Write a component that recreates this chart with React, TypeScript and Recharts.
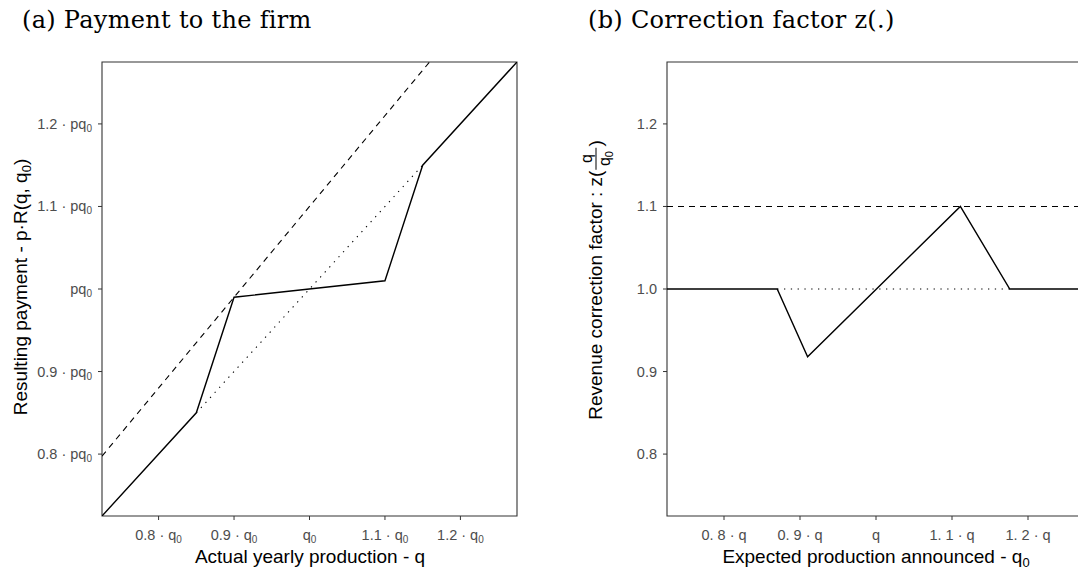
import React from "react";
import { LineChart, Line, XAxis, YAxis, ReferenceArea } from "recharts";

// panel (a): payment as a function of actual production q (in units of q0)
const solidQ = [0.725, 0.85, 0.9, 1.1, 1.15, 1.275];
const solidPay = [0.725, 0.85, 0.99, 1.01, 1.15, 1.275];
const dashedQ = [0.725, 1.275];
const dashedPay = [0.7975, 1.4025];
const dottedQ = [0.85, 1.15];
const dottedPay = [0.85, 1.15];

// panel (b): correction factor as a function of announced production q0
const zSolidX = [0.725, 0.87, 0.91, 1.111, 1.176, 1.275];
const zSolidY = [1, 1, 0.918, 1.1, 1, 1];
const zDashedX = [0.725, 1.275];
const zDashedY = [1.1, 1.1];
const zDottedX = [0.87, 1.176];
const zDottedY = [1, 1];

const tickVals = [0.8, 0.9, 1, 1.1, 1.2];
const leftXLabels = ["0.8 · q", "0.9 · q", "q", "1.1 · q", "1.2 · q"];
const leftYLabels = ["0.8 · pq", "0.9 · pq", "pq", "1.1 · pq", "1.2 · pq"];
const rightXLabels = ["0. 8 · q", "0. 9 · q", "q", "1. 1 · q", "1. 2 · q"];
const rightYLabels = ["0.8", "0.9", "1.0", "1.1", "1.2"];

const DOMAIN: [number, number] = [0.725, 1.275];
const pts = (xs: number[], ys: number[]) => xs.map((x, i) => ({ x, y: ys[i] }));

const TICK_COL = "#4d4d4d";
const BORDER = "#333333";
const SANS = "'Liberation Sans', Arial, sans-serif";

const makeXTick = (labels: string[], sub: boolean) => (p: any) => {
  const i = tickVals.findIndex(v => Math.abs(v - p.payload.value) < 1e-6);
  return (
    <text x={p.x} y={p.y + 18} textAnchor="middle" fontSize={14.5} fill={TICK_COL} fontFamily={SANS}>
      <tspan>{labels[i]}</tspan>
      {sub && <tspan fontSize={10} dy={3}>0</tspan>}
    </text>
  );
};

const makeYTick = (labels: string[], sub: boolean) => (p: any) => {
  const i = tickVals.findIndex(v => Math.abs(v - p.payload.value) < 1e-6);
  return (
    <text x={p.x - 4} y={p.y + 5} textAnchor="end" fontSize={14.5} fill={TICK_COL} fontFamily={SANS}>
      <tspan>{labels[i]}</tspan>
      {sub && <tspan fontSize={10} dy={3}>0</tspan>}
    </text>
  );
};

function Panel(props: {
  solid: { x: number; y: number }[];
  dashed: { x: number; y: number }[];
  dotted: { x: number; y: number }[];
  xLabels: string[];
  yLabels: string[];
  sub: boolean;
  width: number;
  marginLeft: number;
  marginRight: number;
}) {
  return (
    <LineChart width={props.width} height={576}
      margin={{ top: 62, right: props.marginRight, bottom: 30, left: props.marginLeft }}>
      <XAxis dataKey="x" type="number" domain={DOMAIN} ticks={tickVals} allowDataOverflow
        axisLine={false} tickLine={{ stroke: BORDER }} tickSize={4} height={30}
        tick={makeXTick(props.xLabels, props.sub)} />
      <YAxis dataKey="y" type="number" domain={DOMAIN} ticks={tickVals} allowDataOverflow
        axisLine={false} tickLine={{ stroke: BORDER }} tickSize={4} width={60}
        tick={makeYTick(props.yLabels, props.sub)} />
      <Line data={props.dotted} dataKey="y" stroke="#000" strokeWidth={1.1}
        strokeDasharray="1.3 5.5" dot={false} isAnimationActive={false} />
      <Line data={props.dashed} dataKey="y" stroke="#000" strokeWidth={1.1}
        strokeDasharray="6 5" dot={false} isAnimationActive={false} />
      <Line data={props.solid} dataKey="y" stroke="#000" strokeWidth={1.4}
        dot={false} isAnimationActive={false} />
      <ReferenceArea x1={DOMAIN[0]} x2={DOMAIN[1]} y1={DOMAIN[0]} y2={DOMAIN[1]}
        fill="none" stroke={BORDER} strokeWidth={1.1} />
    </LineChart>
  );
}

const title: React.CSSProperties = {
  position: "absolute", fontFamily: "'DejaVu Serif', serif", fontSize: 24, letterSpacing: 0.3,
  color: "#000", whiteSpace: "nowrap", lineHeight: "30px",
};
const axisTitle: React.CSSProperties = {
  position: "absolute", fontFamily: SANS, fontSize: 19, color: "#000", whiteSpace: "nowrap",
  transform: "translate(-50%, -50%)", lineHeight: "22px",
};
const sub0: React.CSSProperties = { fontSize: 13, verticalAlign: "-4px", lineHeight: 0 };

export default function App() {
  return (
    <div style={{ position: "absolute", left: 0, top: 0, width: 1078, height: 576, overflow: "hidden", background: "#fff" }}>
      <div style={{ ...title, left: 22, top: 5 }}>(a) Payment to the firm</div>
      <div style={{ ...title, left: 588, top: 5 }}>(b) Correction factor z(.)</div>

      <div style={{ position: "absolute", left: 0, top: 0 }}>
        <Panel solid={pts(solidQ, solidPay)} dashed={pts(dashedQ, dashedPay)} dotted={pts(dottedQ, dottedPay)}
          xLabels={leftXLabels} yLabels={leftYLabels} sub width={540} marginLeft={42} marginRight={23} />
      </div>
      <div style={{ position: "absolute", left: 560, top: 0 }}>
        <Panel solid={pts(zSolidX, zSolidY)} dashed={pts(zDashedX, zDashedY)} dotted={pts(zDottedX, zDottedY)}
          xLabels={rightXLabels} yLabels={rightYLabels} sub={false} width={540} marginLeft={47} marginRight={15} />
      </div>

      <div style={{ ...axisTitle, left: 310, top: 557 }}>Actual yearly production - q</div>
      <div style={{ ...axisTitle, left: 21, top: 287, transform: "translate(-50%, -50%) rotate(-90deg)" }}>
        Resulting payment - p·R(q, q<sub style={sub0}>0</sub>)
      </div>

      <div style={{ ...axisTitle, left: 876, top: 557 }}>
        Expected production announced - q<sub style={sub0}>0</sub>
      </div>
      <div style={{ ...axisTitle, left: 595, top: 280, transform: "translate(-50%, -50%) rotate(-90deg)",
        display: "flex", alignItems: "center" }}>
        <span>Revenue correction factor : z(</span>
        <span style={{ display: "inline-flex", flexDirection: "column", alignItems: "center", fontSize: 16, lineHeight: "13px", margin: "0 1px" }}>
          <span>q</span>
          <span style={{ borderTop: "1.3px solid #000", width: 22, marginTop: 3, marginBottom: 1 }} />
          <span>q<sub style={{ fontSize: 11, verticalAlign: "-3px", lineHeight: 0 }}>0</sub></span>
        </span>
        <span>)</span>
      </div>
    </div>
  );
}
